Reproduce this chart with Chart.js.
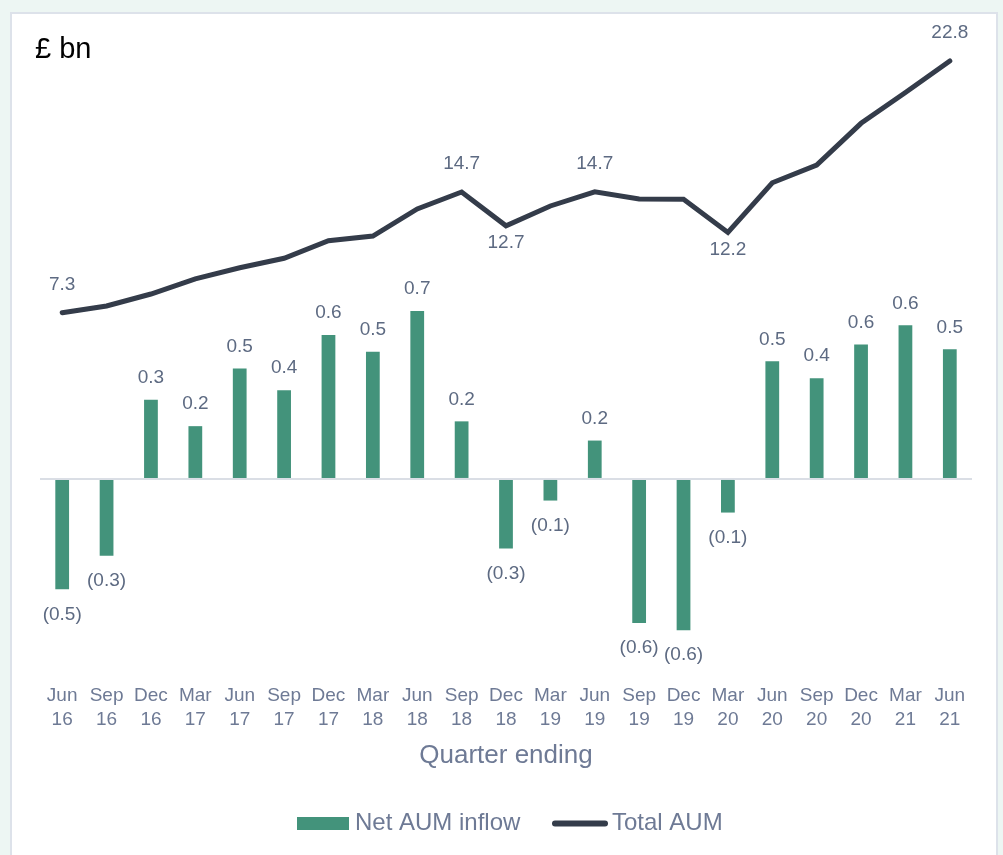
<!DOCTYPE html>
<html>
<head>
<meta charset="utf-8">
<script src="https://cdn.jsdelivr.net/npm/chart.js@4.4.1/dist/chart.umd.min.js"></script>
<style>
  html, body { margin: 0; padding: 0; background: #edf6f3; }
  body { width: 1003px; height: 855px; position: relative; overflow: hidden; }
  .card {
    position: absolute; left: 10px; top: 12px; width: 988px; height: 860px;
    background: #fff; border: 2px solid #dde2ea; box-sizing: border-box;
  }
  #wrap { position: absolute; left: 0; top: 0; width: 1003px; height: 855px; }
</style>
</head>
<body>
<div class="card"></div>
<div id="wrap"><canvas id="chart" width="1003" height="855"></canvas></div>
<script>
// quarters (two-line tick labels)
const quarters = [
  ['Jun', '16'], ['Sep', '16'], ['Dec', '16'], ['Mar', '17'], ['Jun', '17'], ['Sep', '17'],
  ['Dec', '17'], ['Mar', '18'], ['Jun', '18'], ['Sep', '18'], ['Dec', '18'], ['Mar', '19'],
  ['Jun', '19'], ['Sep', '19'], ['Dec', '19'], ['Mar', '20'], ['Jun', '20'], ['Sep', '20'],
  ['Dec', '20'], ['Mar', '21'], ['Jun', '21']
];

// Net AUM inflow, £bn
const netInflow = [-0.46, -0.32, 0.33, 0.22, 0.46, 0.37, 0.6, 0.53, 0.7, 0.24, -0.29,
  -0.09, 0.16, -0.6, -0.63, -0.14, 0.49, 0.42, 0.56, 0.64, 0.54];

// Total AUM, £bn
const totalAum = [7.3, 7.71, 8.45, 9.38, 10.07, 10.65, 11.73, 12.02, 13.69, 14.73, 12.65,
  13.87, 14.74, 14.3, 14.28, 12.24, 15.3, 16.39, 18.96, 20.86, 22.8];

// which Total AUM points get a label, and where
const totalLabelPos = ['above', null, null, null, null, null, null, null, null, 'above', 'below',
  null, 'above', null, null, 'below', null, null, null, null, 'above'];

const barColor = '#43937b';
const lineColor = '#343c4a';
const labelColor = '#5d6a82';
const axisTextColor = '#6e7a95';
const fontFamily = '"Liberation Sans", Arial, sans-serif';

function fmt(v) {
  const s = Math.abs(v).toFixed(1);
  return v < 0 ? '(' + s + ')' : s;
}

// value labels on bars and selected line points
const valueLabels = {
  id: 'valueLabels',
  afterDatasetsDraw(chart) {
    const ctx = chart.ctx;
    ctx.save();
    ctx.font = '19px ' + fontFamily;
    ctx.fillStyle = labelColor;
    ctx.textAlign = 'center';
    ctx.textBaseline = 'middle';

    chart.getDatasetMeta(0).data.forEach((bar, i) => {
      const v = netInflow[i];
      const y = v >= 0 ? bar.y - 22 : bar.y + 25;
      ctx.fillText(fmt(v), bar.x, y);
    });

    chart.getDatasetMeta(1).data.forEach((pt, i) => {
      const pos = totalLabelPos[i];
      if (!pos) return;
      const y = pos === 'above' ? pt.y - 28 : pt.y + 17;
      ctx.fillText(totalAum[i].toFixed(1), pt.x, y);
    });
    ctx.restore();
  }
};

// unit label and legend
const extras = {
  id: 'extras',
  afterDraw(chart) {
    const ctx = chart.ctx;
    ctx.save();
    ctx.fillStyle = '#000';
    ctx.font = '29px ' + fontFamily;
    ctx.textAlign = 'left';
    ctx.textBaseline = 'alphabetic';
    ctx.fillText('£ bn', 35, 58);

    const ly = 823.5;
    ctx.font = '24px ' + fontFamily;
    ctx.textBaseline = 'middle';
    ctx.fillStyle = barColor;
    ctx.fillRect(297, 817, 52, 13);
    ctx.fillStyle = axisTextColor;
    ctx.fillText(chart.data.datasets[0].label, 355, ly);

    ctx.strokeStyle = lineColor;
    ctx.lineWidth = 6;
    ctx.lineCap = 'round';
    ctx.beginPath();
    ctx.moveTo(555, ly);
    ctx.lineTo(605, ly);
    ctx.stroke();
    ctx.fillText(chart.data.datasets[1].label, 612, ly);
    ctx.restore();
  }
};

new Chart(document.getElementById('chart'), {
  data: {
    labels: quarters,
    datasets: [
      {
        type: 'bar',
        label: 'Net AUM inflow',
        data: netInflow,
        backgroundColor: barColor,
        barPercentage: 0.31,
        categoryPercentage: 1,
        yAxisID: 'y',
        order: 2
      },
      {
        type: 'line',
        label: 'Total AUM',
        data: totalAum,
        borderColor: lineColor,
        borderWidth: 5,
        borderCapStyle: 'round',
        borderJoinStyle: 'miter',
        pointRadius: 0,
        tension: 0,
        yAxisID: 'y2',
        order: 1
      }
    ]
  },
  options: {
    responsive: false,
    animation: false,
    layout: { padding: { left: 40, right: 31, top: 40, bottom: 0 } },
    plugins: {
      legend: { display: false },
      tooltip: { enabled: false }
    },
    scales: {
      x: {
        offset: true,
        grid: { display: false, drawTicks: false },
        border: { display: false },
        ticks: {
          color: axisTextColor,
          font: { family: fontFamily, size: 19, lineHeight: 1.25 },
          padding: 14,
          maxRotation: 0,
          autoSkip: false
        },
        title: {
          display: true,
          text: 'Quarter ending',
          color: axisTextColor,
          font: { family: fontFamily, size: 26, lineHeight: 1.2 },
          padding: { top: 0, bottom: 84 }
        },
        afterFit(scale) { scale.height = 185; }
      },
      y: {
        min: -0.796,
        max: 1.829,
        grid: {
          drawTicks: false,
          lineWidth: 2,
          color: (c) => (c.tick && c.tick.value === 0 ? '#dadee5' : 'rgba(0,0,0,0)')
        },
        border: { display: false },
        ticks: { display: false, stepSize: 0.1 },
        afterFit(scale) { scale.width = 0; }
      },
      y2: {
        position: 'right',
        min: -14.7,
        max: 24.09,
        display: false
      }
    }
  },
  plugins: [valueLabels, extras]
});
</script>
</body>
</html>
